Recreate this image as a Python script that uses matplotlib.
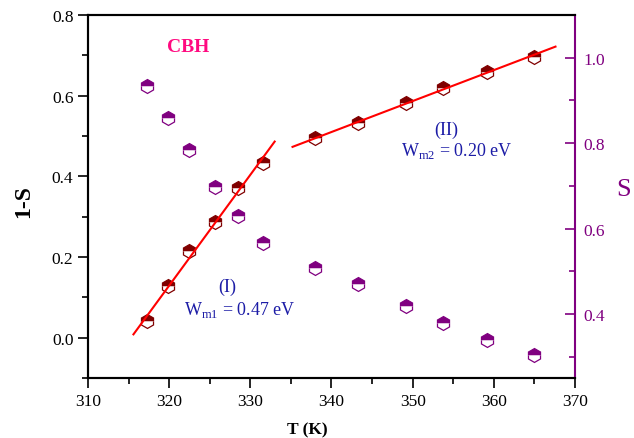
import numpy as np
import matplotlib
matplotlib.use("Agg")
import matplotlib.pyplot as plt
from matplotlib.ticker import MultipleLocator, FormatStrFormatter

plt.rcParams['font.family'] = ['Liberation Serif', 'DejaVu Serif']
plt.rcParams['mathtext.fontset'] = 'custom'
plt.rcParams['mathtext.rm'] = 'Liberation Serif'

# temperature (K)
T = [317.3, 319.9, 322.5, 325.6, 328.5, 331.6, 338.0, 343.3, 349.2, 353.8, 359.1, 364.9]
# 1-S (left axis)
one_minus_s = [0.041, 0.127, 0.214, 0.286, 0.370, 0.434, 0.494, 0.531, 0.583, 0.620, 0.659, 0.696]
# S (right axis)
s_vals = [0.934, 0.859, 0.785, 0.697, 0.630, 0.566, 0.507, 0.470, 0.419, 0.379, 0.339, 0.304]

# the two linear regions and the span each fit line is drawn over
region1 = slice(0, 6)
region2 = slice(6, 12)
span1 = (315.6, 333.0)
span2 = (335.2, 367.6)

maroon = '#800000'
purple = '#800080'
blue = '#1c1ca6'

fig = plt.figure(figsize=(6.34, 4.39), dpi=100)
ax = fig.add_axes([0.1388, 0.1367, 0.7681, 0.8269])
ax2 = ax.twinx()

ax.plot(T, one_minus_s, linestyle='none', marker='h', markersize=10,
        fillstyle='top', markerfacecolor=maroon, markerfacecoloralt='white',
        markeredgecolor=maroon, markeredgewidth=0.9, zorder=3)
ax2.plot(T, s_vals, linestyle='none', marker='h', markersize=10,
         fillstyle='top', markerfacecolor=purple, markerfacecoloralt='white',
         markeredgecolor=purple, markeredgewidth=0.9, zorder=3)

# linear fits of the two regions
Ta = np.array(T)
ya = np.array(one_minus_s)
for reg, span in [(region1, span1), (region2, span2)]:
    k, b = np.polyfit(Ta[reg], ya[reg], 1)
    xs = np.array(span)
    ax.plot(xs, k * xs + b, color='red', lw=1.5, zorder=4)

ax.set_xlim(310, 370)
ax.set_ylim(-0.1, 0.8)
ax2.set_ylim(0.25, 1.1)

ax.xaxis.set_major_locator(MultipleLocator(10))
ax.xaxis.set_minor_locator(MultipleLocator(5))
ax.yaxis.set_major_locator(MultipleLocator(0.2))
ax.yaxis.set_minor_locator(MultipleLocator(0.1))
ax2.yaxis.set_major_locator(MultipleLocator(0.2))
ax2.yaxis.set_minor_locator(MultipleLocator(0.1))
ax.yaxis.set_major_formatter(FormatStrFormatter('%.1f'))
ax2.yaxis.set_major_formatter(FormatStrFormatter('%.1f'))

ax.tick_params(which='major', direction='out', length=7, width=1.2, labelsize=12.5)
ax.tick_params(which='minor', direction='out', length=4, width=1.2)
ax.tick_params(axis='y', right=False)
ax2.tick_params(which='major', direction='in', length=7, width=1.2, color=purple,
                labelcolor=purple, labelsize=12.5, pad=6)
ax2.tick_params(which='minor', direction='in', length=4, width=1.2, color=purple)

for sp in ['left', 'bottom', 'top']:
    ax.spines[sp].set_linewidth(1.5)
    ax2.spines[sp].set_linewidth(1.5)
ax2.spines['right'].set_color(purple)
ax2.spines['right'].set_linewidth(1.5)
ax.spines['right'].set_visible(False)

ax.set_xlabel('T (K)', fontsize=12.5, fontweight='bold')
ax.xaxis.set_label_coords(0.45, -0.12)
ax.set_ylabel('1-S', fontsize=17, fontweight='bold')
ax.yaxis.set_label_coords(-0.11, 0.49)
ax2.set_ylabel('S', fontsize=19, color=purple, rotation=0, va='center')
ax2.yaxis.set_label_coords(1.1, 0.52)

ax.text(322.3, 0.723, 'CBH', color='#ff0a80', fontsize=14, fontweight='bold',
        ha='center', va='center')
ax.text(354.2, 0.517, '(II)', color=blue, fontsize=13, ha='center', va='center')
ax.text(355.4, 0.465, r'W$_{\mathrm{m2}}$ = 0.20 eV', color=blue, fontsize=13,
        ha='center', va='center')
ax.text(327.1, 0.127, '(I)', color=blue, fontsize=13, ha='center', va='center')
ax.text(328.7, 0.072, r'W$_{\mathrm{m1}}$ = 0.47 eV', color=blue, fontsize=13,
        ha='center', va='center')

fig.savefig('out.png', dpi=100)
